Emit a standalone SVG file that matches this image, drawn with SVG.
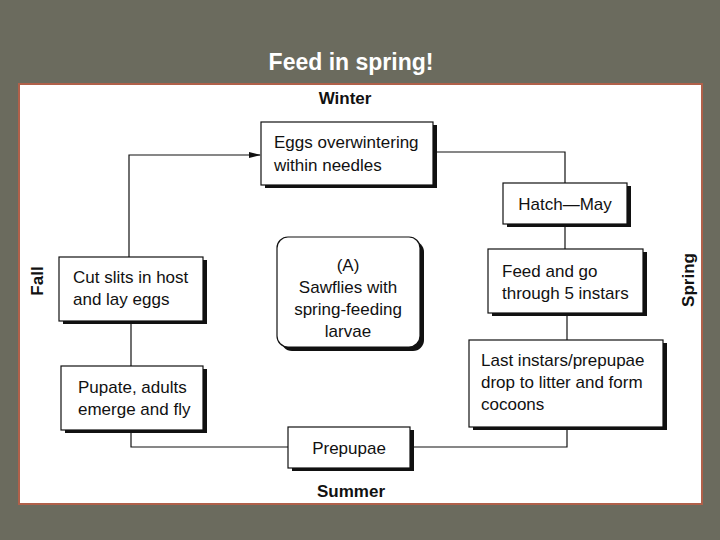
<svg xmlns="http://www.w3.org/2000/svg" width="720" height="540" viewBox="0 0 720 540">
<style>
.t{font-family:"Liberation Sans",Arial,sans-serif;font-size:17px;fill:#111}
.b{font-family:"Liberation Sans",Arial,sans-serif;font-size:17px;font-weight:bold;fill:#111}
.box{fill:#fff;stroke:#111;stroke-width:1.2}
.sh{fill:#111}
.c{fill:none;stroke:#111;stroke-width:1.2}
</style>
<defs>
<marker id="ah" markerWidth="12" markerHeight="8" refX="11" refY="4" orient="auto" markerUnits="userSpaceOnUse">
<path d="M0,1 L12,4 L0,7 Z" fill="#111"/>
</marker>
</defs>
<rect x="0" y="0" width="720" height="540" fill="#6b6b5e"/>
<text x="351" y="70" text-anchor="middle" style="font-family:'Liberation Sans',Arial,sans-serif;font-size:23px;font-weight:bold;fill:#fff">Feed in spring!</text>
<rect x="19" y="84" width="683" height="420" fill="#fff" stroke="#b0604a" stroke-width="2"/>

<text class="b" x="345" y="104" text-anchor="middle">Winter</text>
<text class="b" x="351" y="497" text-anchor="middle">Summer</text>
<text class="b" transform="translate(43,281) rotate(-90)" text-anchor="middle">Fall</text>
<text class="b" transform="translate(694,280) rotate(-90)" text-anchor="middle">Spring</text>

<g id="connectors">
<path class="c" d="M129,257 V155 H260" marker-end="url(#ah)"/>
<path class="c" d="M433,152 H565 V183"/>
<path class="c" d="M565,224 V249"/>
<path class="c" d="M567,313 V340"/>
<path class="c" d="M567,427 V447 H410"/>
<path class="c" d="M288,447 H131 V430"/>
<path class="c" d="M131,366 V321"/>
</g>

<g id="eggs">
<rect class="sh" x="265" y="125" width="172" height="63"/>
<rect class="box" x="261" y="122" width="172" height="63"/>
<text class="t" x="274" y="148">Eggs overwintering</text>
<text class="t" x="274" y="171">within needles</text>
</g>
<g id="hatch">
<rect class="sh" x="507" y="186" width="124" height="41"/>
<rect class="box" x="503" y="183" width="124" height="41"/>
<text class="t" x="565" y="210" text-anchor="middle">Hatch—May</text>
</g>
<g id="feed">
<rect class="sh" x="492" y="252" width="155" height="64"/>
<rect class="box" x="488" y="249" width="155" height="64"/>
<text class="t" x="502" y="277">Feed and go</text>
<text class="t" x="502" y="299">through 5 instars</text>
</g>
<g id="last">
<rect class="sh" x="473" y="343" width="194" height="87"/>
<rect class="box" x="469" y="340" width="194" height="87"/>
<text class="t" x="481" y="366">Last instars/prepupae</text>
<text class="t" x="481" y="388">drop to litter and form</text>
<text class="t" x="481" y="410">cocoons</text>
</g>
<g id="prepupae">
<rect class="sh" x="292" y="430" width="122" height="41"/>
<rect class="box" x="288" y="427" width="122" height="41"/>
<text class="t" x="349" y="454" text-anchor="middle">Prepupae</text>
</g>
<g id="pupate">
<rect class="sh" x="65" y="369" width="142" height="64"/>
<rect class="box" x="61" y="366" width="142" height="64"/>
<text class="t" x="78" y="393">Pupate, adults</text>
<text class="t" x="78" y="415">emerge and fly</text>
</g>
<g id="cutslits">
<rect class="sh" x="63" y="260" width="144" height="64"/>
<rect class="box" x="59" y="257" width="144" height="64"/>
<text class="t" x="73" y="283">Cut slits in host</text>
<text class="t" x="73" y="305">and lay eggs</text>
</g>
<g id="center">
<rect class="sh" x="281" y="241" width="143" height="110" rx="11"/>
<rect class="box" x="277" y="237" width="143" height="110" rx="11"/>
<text class="t" x="348" y="271" text-anchor="middle">(A)</text>
<text class="t" x="348" y="293" text-anchor="middle">Sawflies with</text>
<text class="t" x="348" y="315" text-anchor="middle">spring-feeding</text>
<text class="t" x="348" y="337" text-anchor="middle">larvae</text>
</g>
</svg>
